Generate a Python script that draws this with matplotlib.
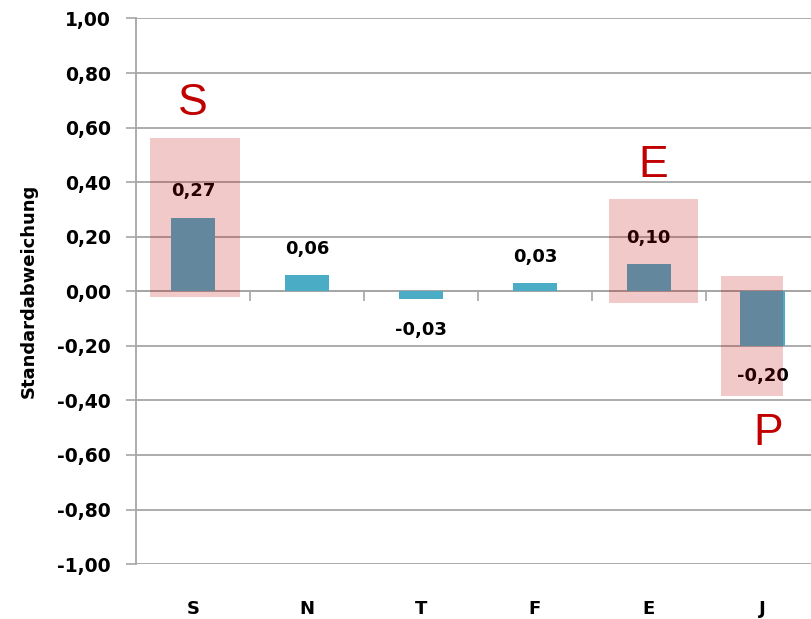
import matplotlib
matplotlib.use("Agg")
import matplotlib.pyplot as plt
from matplotlib.patches import Rectangle

categories = ["S", "N", "T", "F", "E", "J"]
values = [0.27, 0.06, -0.03, 0.03, 0.10, -0.20]
value_labels = ["0,27", "0,06", "-0,03", "0,03", "0,10", "-0,20"]
yticks = [-1.0, -0.8, -0.6, -0.4, -0.2, 0.0, 0.2, 0.4, 0.6, 0.8, 1.0]
ytick_labels = ["-1,00", "-0,80", "-0,60", "-0,40", "-0,20", "0,00",
                "0,20", "0,40", "0,60", "0,80", "1,00"]
# highlight boxes around selected categories, with the red letters
highlight_idx = [0, 4, 5]
highlight_x = [(-0.38, 0.41), (-0.35, 0.43), (-0.37, 0.18)]
highlight_y = [(-0.022, 0.563), (-0.044, 0.339), (-0.383, 0.055)]
letters = ["S", "E", "P"]
letter_pos = [(0.0, 0.69), (4.04, 0.46), (5.05, -0.52)]

fig = plt.figure(figsize=(8.11, 6.19), dpi=100)
ax = fig.add_axes([0.1677, 0.0887, 0.843, 0.8815])

bar_color = "#4BACC6"
grid_color = "#A6A6A6"
x = list(range(len(categories)))
ax.bar(x, values, width=0.39, color=bar_color, zorder=3)

ax.set_xlim(-0.5, len(categories) - 0.5)
ax.set_ylim(-1.0, 1.0)
ax.set_yticks(yticks)
ax.set_yticklabels(ytick_labels, fontsize=13.5, fontweight="bold")
ax.tick_params(axis="y", length=7, width=1.2, color=grid_color, pad=11)
ax.yaxis.grid(True, color=grid_color, linewidth=1.3, zorder=0)
ax.set_axisbelow(True)

for s in ["top", "right"]:
    ax.spines[s].set_visible(False)
ax.spines["left"].set_color(grid_color)
ax.spines["left"].set_linewidth(1.3)
ax.spines["bottom"].set_position(("data", 0))
ax.spines["bottom"].set_color(grid_color)
ax.spines["bottom"].set_linewidth(1.3)
ax.spines["bottom"].set_zorder(2)
ax.set_xticks([i + 0.5 for i in x[:-1]])
ax.set_xticklabels([])
ax.tick_params(axis="x", length=7, width=1.2, color=grid_color, direction="out")

for i, c in zip(x, categories):
    ax.annotate(c, (i, -1.0), xytext=(0, -32), textcoords="offset points",
                ha="center", va="center", fontsize=13, fontweight="bold")

for i, v, lab in zip(x, values, value_labels):
    off = 19 if v >= 0 else -22
    ax.annotate(lab, (i, v), xytext=(0, off), textcoords="offset points",
                ha="center", va="center", fontsize=13, fontweight="bold",
                color="black", zorder=4)

ax.set_ylabel("Standardabweichung", fontsize=13, fontweight="bold", labelpad=14)

for idx, (x0, x1), (y0, y1), let, (lx, ly) in zip(highlight_idx, highlight_x, highlight_y, letters, letter_pos):
    ax.add_patch(Rectangle((idx + x0, y0), x1 - x0, y1 - y0, facecolor="#C00000",
                           alpha=0.21, edgecolor="none", zorder=5))
    ax.text(lx, ly, let, ha="center", va="center", fontsize=32,
            color="#C00000", family="Liberation Sans", zorder=6)

fig.savefig("out.png", dpi=100)
